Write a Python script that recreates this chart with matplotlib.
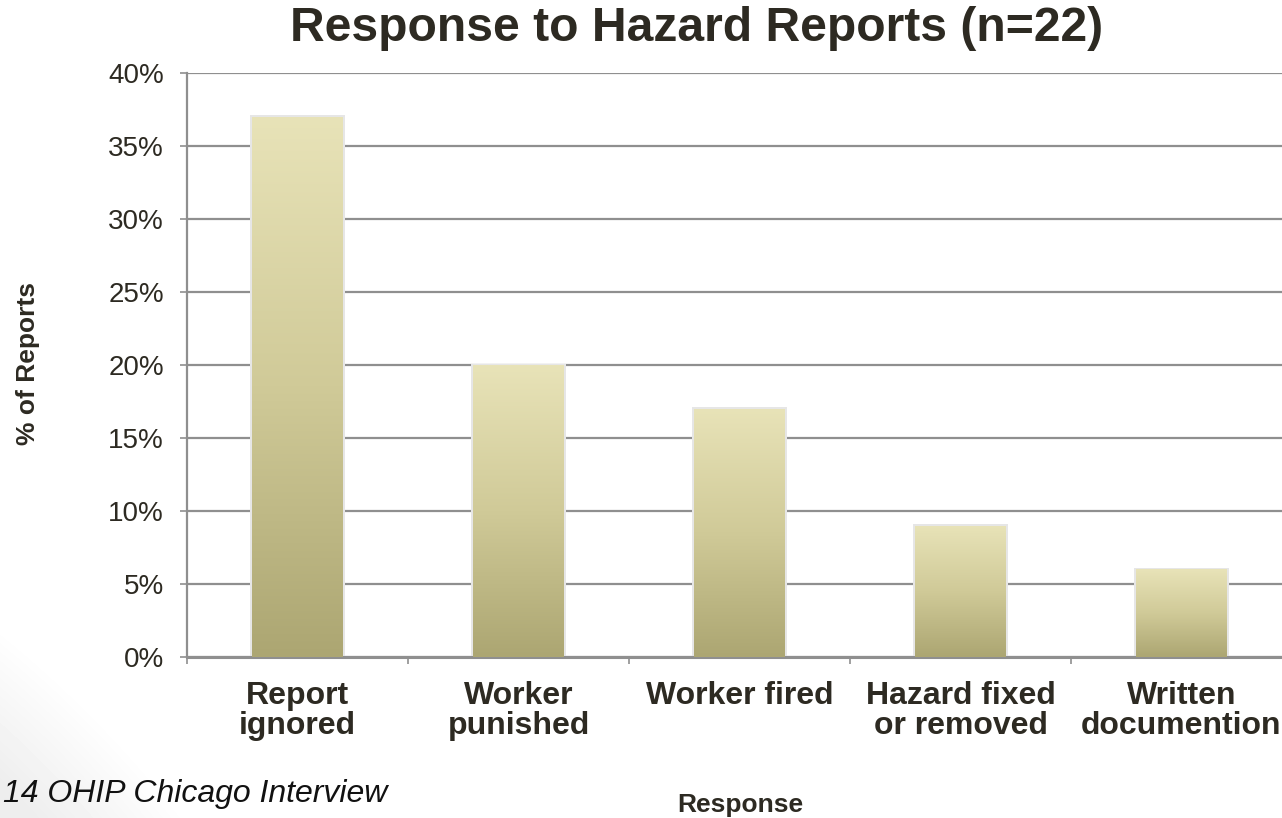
import numpy as np
import matplotlib
matplotlib.use("Agg")
import matplotlib.pyplot as plt
from matplotlib.colors import LinearSegmentedColormap
from matplotlib.patches import Rectangle

categories = ["Report\nignored", "Worker\npunished", "Worker fired",
              "Hazard fixed\nor removed", "Written\ndocumention"]
values = [37, 20, 17, 9, 6]
yticks = [0, 5, 10, 15, 20, 25, 30, 35, 40]

plt.rcParams['font.family'] = ['Liberation Sans', 'DejaVu Sans']
txt = "#2d2a22"
grid = "#8f8f8f"
W, H = 1282, 818

fig = plt.figure(figsize=(W/100, H/100), dpi=100)

# faint slide background shading in the lower-left corner
bg = fig.add_axes([0, 0, 1, 1], zorder=-10)
yy, xx = np.mgrid[0:H, 0:W]
d = np.hypot(xx + 700, yy - 1500) - 1000
shade = np.clip(1 - d / 120, 0, 1) * 0.07
bg.imshow(1 - shade, cmap="gray", vmin=0, vmax=1, aspect="auto",
          extent=(0, 1, 0, 1), origin="upper")
bg.axis("off")

ax = fig.add_axes([187/W, 1-657/H, (1292-187)/W, (657-73)/H])
ax.patch.set_alpha(0)

cmap = LinearSegmentedColormap.from_list("g", ["#aca672", "#d0ca98", "#e8e3b8"])
grad = np.linspace(0, 1, 256).reshape(-1, 1)
width = 0.41
for i, v in enumerate(values):
    sh = Rectangle((i - width/2 - 0.012, 0), width + 0.024, v + 0.1,
                   facecolor="#e6e6e6", edgecolor="none", zorder=2)
    ax.add_patch(sh)
    bar = ax.bar(i, v, width=width, color="none", edgecolor="none", zorder=3)[0]
    im = ax.imshow(grad, extent=(i - width/2, i + width/2, 0, v), origin="lower",
                   aspect="auto", cmap=cmap, zorder=3)
    im.set_clip_path(bar)
ax.set_aspect("auto")
ax.set_xlim(-0.5, len(categories) - 0.5)
ax.set_ylim(0, 40)

ax.set_yticks(yticks)
ax.set_yticklabels([f"{t}%" for t in yticks], fontsize=20, color=txt)
ax.yaxis.grid(True, color=grid, linewidth=1.6, zorder=1)
ax.set_axisbelow(True)

ax.set_xticks(np.arange(len(categories)))
ax.set_xticklabels(categories, fontsize=23, fontweight="bold", color=txt, linespacing=1.0)
ax.set_xticks(np.arange(len(categories) + 1) - 0.5, minor=True)
ax.tick_params(axis="x", which="major", length=0, pad=17)
ax.tick_params(axis="x", which="minor", length=5, width=1.2, color=grid, direction="out")
ax.tick_params(axis="y", length=5, width=1.2, color=grid, direction="out", pad=11.5)

for s in ["top", "right"]:
    ax.spines[s].set_visible(False)
ax.spines["left"].set_color(grid)
ax.spines["left"].set_linewidth(1.6)
ax.spines["bottom"].set_color(grid)
ax.spines["bottom"].set_linewidth(2.2)

fig.text(697/W, 1-41/H, "Response to Hazard Reports (n=22)", ha="center", va="baseline",
         fontsize=34.6, fontweight="bold", color=txt)
fig.text(28/W, 1-364/H, "% of Reports", rotation=90, ha="center", va="center",
         fontsize=19, fontweight="bold", color=txt)
fig.text(740/W, 1-812/H, "Response", ha="center", va="baseline",
         fontsize=19, fontweight="bold", color=txt)
fig.text(3/W, 1-802/H, "14 OHIP Chicago Interview", ha="left", va="baseline",
         fontsize=23, fontstyle="italic", color="#111111")

fig.savefig("out.png", dpi=100)
